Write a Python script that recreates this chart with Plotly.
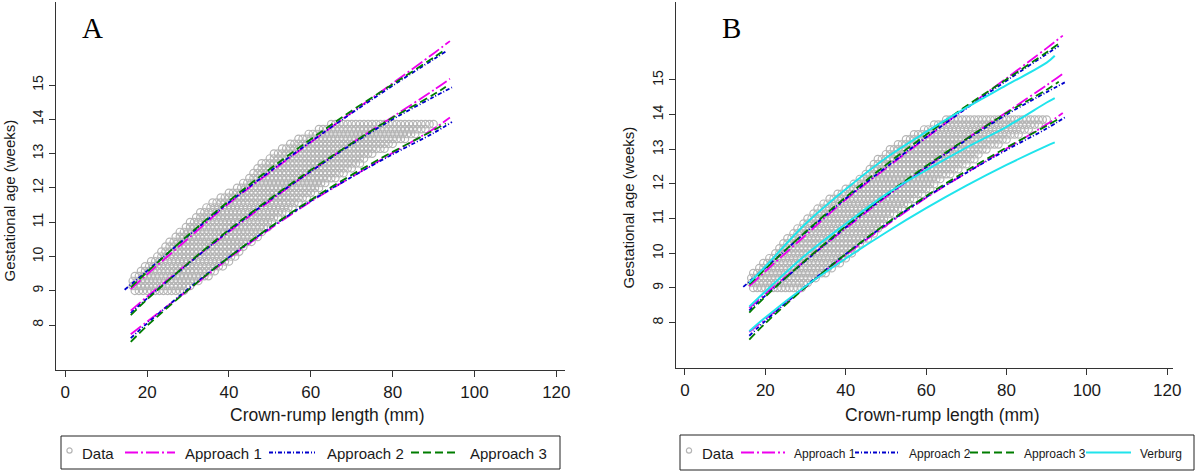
import plotly.graph_objects as go

# ---------------- data ----------------
crl_ticks = [0, 20, 40, 60, 80, 100, 120]
ga_ticks = [8, 9, 10, 11, 12, 13, 14, 15]

# observed data: one row per gestational day, with CRL extent of the row (mm)
ga_days = list(range(63, 98))
crl_lo = [17, 16.5, 16.5, 17, 18.5, 19.5, 21, 22.5, 23.5, 24.5, 25.5, 27, 28, 29.5, 30.5,
          32, 33, 34.5, 36, 38, 40, 42, 43.5, 45, 46, 47, 48, 50, 51, 53, 55, 57, 59.5, 62, 65]
crl_hi = [29, 30.5, 33, 35, 36.5, 38.5, 40, 41.5, 43, 44, 45.5, 47, 48.5, 49.5, 51,
          52.5, 54, 56, 57.5, 59, 61, 62.5, 64, 66, 68, 70, 72, 73.5, 75.5, 78, 80, 83, 85.5, 88, 90]

# Approach 1 (magenta)
crl_a1 = [16, 20, 30, 40, 50, 60, 70, 80, 90, 94]
a1_upper = [9.05, 9.48, 10.52, 11.55, 12.45, 13.33, 14.2, 15.05, 15.92, 16.28]
a1_median = [8.42, 8.83, 9.8, 10.72, 11.62, 12.48, 13.3, 14.07, 14.85, 15.18]
a1_lower = [7.73, 8.1, 9.02, 9.95, 10.8, 11.6, 12.32, 13.02, 13.72, 14.05]

# Approach 2 (blue)
crl_a2_up = [14.5, 20, 30, 40, 50, 60, 70, 80, 90, 93]
a2_upper = [9.03, 9.58, 10.6, 11.58, 12.48, 13.35, 14.18, 14.98, 15.75, 15.98]
crl_a2 = [16, 20, 30, 40, 50, 60, 70, 80, 90, 94.5]
a2_median = [8.35, 8.78, 9.78, 10.75, 11.65, 12.48, 13.27, 14.0, 14.65, 14.93]
a2_lower = [7.62, 8.05, 9.05, 9.98, 10.83, 11.62, 12.32, 12.98, 13.6, 13.92]

# Approach 3 (green)
crl_a3 = [16, 20, 30, 40, 50, 60, 70, 80, 90, 93]
a3_upper = [9.1, 9.55, 10.62, 11.62, 12.55, 13.42, 14.25, 15.02, 15.8, 16.05]
a3_median = [8.29, 8.75, 9.8, 10.78, 11.68, 12.52, 13.3, 14.05, 14.72, 14.95]
a3_lower = [7.51, 7.98, 9.02, 9.98, 10.85, 11.65, 12.38, 13.05, 13.68, 13.88]

# Verburg (cyan)
crl_v = [16, 20, 30, 40, 50, 60, 70, 80, 90, 92]
v_upper = [9.15, 9.62, 10.85, 11.85, 12.75, 13.5, 14.2, 14.85, 15.5, 15.7]
v_median = [8.46, 8.9, 9.95, 10.85, 11.7, 12.4, 13.05, 13.65, 14.35, 14.48]
v_lower = [7.75, 8.15, 9.05, 9.85, 10.6, 11.3, 11.95, 12.55, 13.1, 13.2]

legend_names_a = ["Data", "Approach 1", "Approach 2", "Approach 3"]
legend_names_b = ["Data", "Approach 1", "Approach 2", "Approach 3", "Verburg"]
x_title = "Crown-rump length (mm)"
y_title = "Gestational age (weeks)"

# ---------------- styling ----------------
FONT = "Liberation Sans, Arial, sans-serif"
TXT = "#1a1a1a"
C_DATA = "#b5b5b5"
C_A1 = "#ee00ee"
C_A2 = "#0000cd"
C_A3 = "#007d00"
C_V = "#20e4ec"
D_A1 = "13px,3px,2px,3px"
D_A2 = "4px,2px,1px,2px"
D_A3 = "8px,4px"
W, H = 1200, 471

# expand the observed rows into markers (one circle per mm along each row)
data_x, data_y = [], []
for d, lo, hi in zip(ga_days, crl_lo, crl_hi):
    c = lo
    while c <= hi + 1e-9:
        data_x.append(c)
        data_y.append(d / 7.0)
        c += 1.0

fig = go.Figure()

STYLE = {
    "Approach 1": (C_A1, D_A1, 1.8),
    "Approach 2": (C_A2, D_A2, 1.8),
    "Approach 3": (C_A3, D_A3, 1.8),
    "Verburg": (C_V, "solid", 2.0),
}


def add_panel(xa, ya, with_verburg):
    fig.add_trace(go.Scatter(
        x=data_x, y=data_y, mode="markers", name="Data", xaxis=xa, yaxis=ya,
        marker=dict(symbol="circle-open", size=7.5, color=C_DATA, line=dict(width=1.2, color=C_DATA)),
        showlegend=False))
    series = [
        ("Approach 1", [(crl_a1, a1_upper), (crl_a1, a1_median), (crl_a1, a1_lower)]),
        ("Approach 2", [(crl_a2_up, a2_upper), (crl_a2, a2_median), (crl_a2, a2_lower)]),
        ("Approach 3", [(crl_a3, a3_upper), (crl_a3, a3_median), (crl_a3, a3_lower)]),
    ]
    if with_verburg:
        series.append(("Verburg", [(crl_v, v_upper), (crl_v, v_median), (crl_v, v_lower)]))
    for name, curves in series:
        col, dash, lw = STYLE[name]
        for cx, cy in curves:
            fig.add_trace(go.Scatter(
                x=cx, y=cy, mode="lines", name=name, xaxis=xa, yaxis=ya, showlegend=False,
                line=dict(color=col, width=lw, dash=dash, shape="spline")))


add_panel("x", "y", False)
add_panel("x2", "y2", True)


def xaxis_cfg(d0, d1, rng, anchor):
    return dict(
        domain=[d0 / W, d1 / W], range=rng, anchor=anchor,
        tickmode="array", tickvals=crl_ticks, ticktext=[str(v) for v in crl_ticks],
        ticks="outside", ticklen=6, tickwidth=1, tickcolor="#333333",
        showline=True, linecolor="#333333", linewidth=1,
        showgrid=False, zeroline=False, ticklabelstandoff=1,
        tickfont=dict(family=FONT, size=17, color=TXT),
    )


def yaxis_cfg(top, bottom, rng, anchor):
    return dict(
        domain=[1 - bottom / H, 1 - top / H], range=rng, anchor=anchor,
        tickmode="array", tickvals=ga_ticks, ticktext=[str(v) for v in ga_ticks],
        ticks="outside", ticklen=6, tickwidth=1, tickcolor="#333333", tickangle=-90,
        showline=True, linecolor="#333333", linewidth=1,
        showgrid=False, zeroline=False,
        tickfont=dict(family=FONT, size=14, color=TXT),
    )


shapes, annots = [], []


def px(x):
    return x / W


def py(y):
    return 1 - y / H


# axis titles
for cx, cy in [(326.5, 415), (941.5, 415)]:
    annots.append(dict(text=x_title, x=px(cx), y=py(cy), xref="paper", yref="paper", showarrow=False,
                       xanchor="center", yanchor="middle", font=dict(family=FONT, size=17.5, color=TXT)))
for cx, cy in [(8.5, 201), (627.5, 208)]:
    annots.append(dict(text=y_title, x=px(cx), y=py(cy), xref="paper", yref="paper", showarrow=False,
                       textangle=-90, xanchor="center", yanchor="middle",
                       font=dict(family=FONT, size=15, color=TXT)))


# ---------------- legends (boxed, drawn below each panel) ----------------
def legend_box(x0, x1, y0, y1, items):
    """items: list of (name, sample_x0, sample_x1, text_x, text_size)"""
    shapes.append(dict(type="rect", xref="paper", yref="paper", x0=px(x0), x1=px(x1), y0=py(y1), y1=py(y0),
                       line=dict(color="#222222", width=1), fillcolor="rgba(0,0,0,0)", layer="above"))
    yc = (y0 + y1) / 2
    for name, sx0, sx1, tx, ts in items:
        if name == "Data":
            r = 2.6
            shapes.append(dict(type="circle", xref="paper", yref="paper",
                               x0=px(sx0 - r), x1=px(sx0 + r), y0=py(yc - 2 + r), y1=py(yc - 2 - r),
                               line=dict(color=C_DATA, width=1.2), layer="above"))
        else:
            col, dash, lw = STYLE[name]
            shapes.append(dict(type="line", xref="paper", yref="paper", x0=px(sx0), x1=px(sx1),
                               y0=py(yc), y1=py(yc), line=dict(color=col, width=lw, dash=dash), layer="above"))
        annots.append(dict(text=name, x=px(tx), y=py(yc + 1), xref="paper", yref="paper",
                           xanchor="left", yanchor="middle", showarrow=False,
                           font=dict(family=FONT, size=ts, color=TXT)))


legend_box(61, 560, 436, 469, [
    (legend_names_a[0], 69.5, None, 80, 15),
    (legend_names_a[1], 125, 175, 183, 15),
    (legend_names_a[2], 269, 315, 325, 15),
    (legend_names_a[3], 411, 458, 468, 15),
])

legend_box(680, 1194, 435, 470, [
    (legend_names_b[0], 689, None, 699.5, 15),
    (legend_names_b[1], 741, 785, 791.5, 12),
    (legend_names_b[2], 855, 898, 906.5, 12),
    (legend_names_b[3], 970, 1016.5, 1022, 12),
    (legend_names_b[4], 1086, 1131, 1138, 12),
])

annots.append(dict(text="A", x=px(92), y=py(28), xref="paper", yref="paper", showarrow=False,
                   xanchor="center", yanchor="middle",
                   font=dict(family="Liberation Serif, Times New Roman, serif", size=29, color="black")))
annots.append(dict(text="B", x=px(731), y=py(28), xref="paper", yref="paper", showarrow=False,
                   xanchor="center", yanchor="middle",
                   font=dict(family="Liberation Serif, Times New Roman, serif", size=29, color="black")))

fig.update_layout(
    width=W, height=H,
    margin=dict(l=0, r=0, t=0, b=0, autoexpand=False),
    paper_bgcolor="white", plot_bgcolor="white",
    font=dict(family=FONT, color=TXT),
    showlegend=False,
    xaxis=xaxis_cfg(56, 564.5, [-2.27, 122.0], "y"),
    yaxis=yaxis_cfg(2, 370, [6.69, 17.42], "x"),
    xaxis2=xaxis_cfg(675.5, 1173.3, [-2.36, 121.5], "y2"),
    yaxis2=yaxis_cfg(2, 368, [6.69, 17.25], "x2"),
    shapes=shapes,
    annotations=annots,
)

fig.write_html(
    "out.html",
    config={"displayModeBar": False},
    post_script="document.body.style.margin='0px';document.body.style.overflow='hidden';",
)
